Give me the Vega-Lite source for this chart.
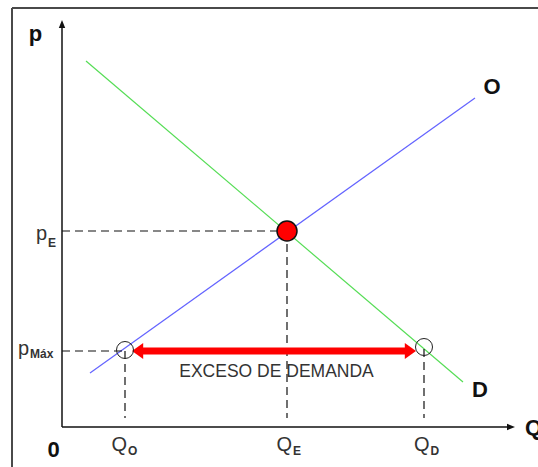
{
  "$schema": "https://vega.github.io/schema/vega-lite/v6.json",
  "width": 538,
  "height": 467,
  "autosize": {"type": "none"},
  "padding": 0,
  "background": "white",
  "config": {"view": {"stroke": null}},
  "datasets": {
    "frame": [{"Q": -10, "p": -9, "Q2": -10, "p2": 83.8}, {"Q": -10, "p": 83.8, "Q2": 96, "p2": 83.8}],
    "axes": [{"Q": 0, "p": 0, "Q2": 0, "p2": 80.2}, {"Q": 0, "p": 0, "Q2": 89.4, "p2": 0}],
    "arrowUp": [{"Q": 0, "p": 81.4}],
    "arrowRight": [{"Q": 90.6, "p": 0}],
    "curves": [
      {"curve": "D", "Q": 4.8, "p": 73.2}, {"curve": "D", "Q": 80.2, "p": 9.0},
      {"curve": "O", "Q": 5.6, "p": 10.8}, {"curve": "O", "Q": 82.6, "p": 65.8}
    ],
    "dashed": [
      {"Q": 0, "p": 39.2, "Q2": 45, "p2": 39.2},
      {"Q": 45, "p": 39.2, "Q2": 45, "p2": 1.8},
      {"Q": 0, "p": 15.2, "Q2": 12.6, "p2": 15.2},
      {"Q": 12.6, "p": 15.2, "Q2": 12.6, "p2": 1.8},
      {"Q": 72.4, "p": 15.6, "Q2": 72.4, "p2": 1.8}
    ],
    "excess": [{"Q": 15.2, "p": 15.2, "Q2": 69.6, "p2": 15.2}],
    "headL": [{"Q": 14, "p": 15.2}],
    "headR": [{"Q": 70.8, "p": 15.2}],
    "open": [{"Q": 12.6, "p": 15.4}, {"Q": 72.4, "p": 16}],
    "eq": [{"Q": 45, "p": 39.2}],
    "bigLabels": [
      {"Q": -5.3, "p": 77.2, "t": "p"},
      {"Q": 86, "p": 66.6, "t": "O"},
      {"Q": 83.6, "p": 6, "t": "D"},
      {"Q": 94.3, "p": -1.6, "t": "Q"},
      {"Q": -1.7, "p": -6, "t": "0"}
    ],
    "mainLetters": [
      {"Q": -3.0, "p": 37.4, "t": "p"},
      {"Q": -6.6, "p": 14.4, "t": "p"},
      {"Q": 13.0, "p": -4.7, "t": "Q"},
      {"Q": 46.0, "p": -4.7, "t": "Q"},
      {"Q": 73.5, "p": -4.7, "t": "Q"}
    ],
    "subs": [
      {"Q": -2.8, "p": 36, "t": "E"},
      {"Q": -6.4, "p": 13.9, "t": "Máx"},
      {"Q": 13.2, "p": -5.6, "t": "O"},
      {"Q": 46.2, "p": -5.6, "t": "E"},
      {"Q": 73.7, "p": -5.6, "t": "D"}
    ],
    "excessLabel": [{"Q": 42.9, "p": 10, "t": "EXCESO DE DEMANDA"}]
  },
  "encoding": {
    "x": {"field": "Q", "type": "quantitative", "scale": {"domain": [-12.4, 95.2], "nice": false, "zero": false}, "axis": null},
    "y": {"field": "p", "type": "quantitative", "scale": {"domain": [-8, 85.4], "nice": false, "zero": false}, "axis": null}
  },
  "layer": [
    {"data": {"name": "frame"}, "mark": {"type": "rule", "color": "#4a4a4a", "strokeWidth": 2},
     "encoding": {"x2": {"field": "Q2"}, "y2": {"field": "p2"}}},
    {"data": {"name": "axes"}, "mark": {"type": "rule", "color": "#111111", "strokeWidth": 1.5},
     "encoding": {"x2": {"field": "Q2"}, "y2": {"field": "p2"}}},
    {"data": {"name": "arrowUp"}, "mark": {"type": "point", "shape": "M0,0L-0.8,2L0.8,2Z", "size": 64, "filled": true, "color": "#111111", "opacity": 1}},
    {"data": {"name": "arrowRight"}, "mark": {"type": "point", "shape": "M0,0L-2,-0.8L-2,0.8Z", "size": 64, "filled": true, "color": "#111111", "opacity": 1}},
    {"data": {"name": "curves"}, "mark": {"type": "line", "strokeWidth": 1.2},
     "encoding": {
       "detail": {"field": "curve"},
       "color": {"field": "curve", "type": "nominal", "scale": {"domain": ["D", "O"], "range": ["#55dd55", "#6464ff"]}, "legend": null}
     }},
    {"data": {"name": "dashed"}, "mark": {"type": "rule", "color": "#111111", "strokeWidth": 1.2, "strokeDash": [8, 5]},
     "encoding": {"x2": {"field": "Q2"}, "y2": {"field": "p2"}}},
    {"data": {"name": "excess"}, "mark": {"type": "rule", "color": "#ff0000", "strokeWidth": 7},
     "encoding": {"x2": {"field": "Q2"}, "y2": {"field": "p2"}}},
    {"data": {"name": "headL"}, "mark": {"type": "point", "shape": "M0,0L1.4,-1L1.4,1Z", "size": 256, "filled": true, "color": "#ff0000", "opacity": 1}},
    {"data": {"name": "headR"}, "mark": {"type": "point", "shape": "M0,0L-1.4,-1L-1.4,1Z", "size": 256, "filled": true, "color": "#ff0000", "opacity": 1}},
    {"data": {"name": "open"}, "mark": {"type": "point", "shape": "circle", "size": 289, "filled": false, "stroke": "#222222", "strokeWidth": 1, "opacity": 1}},
    {"data": {"name": "eq"}, "mark": {"type": "point", "shape": "circle", "size": 400, "filled": true, "fill": "#ff0000", "stroke": "#111111", "strokeWidth": 1.5, "opacity": 1}},
    {"data": {"name": "bigLabels"}, "mark": {"type": "text", "font": "Liberation Sans", "fontWeight": "bold", "fontSize": 22, "align": "center", "baseline": "alphabetic", "color": "#111111"},
     "encoding": {"text": {"field": "t"}}},
    {"data": {"name": "mainLetters"}, "mark": {"type": "text", "font": "Liberation Sans", "fontSize": 20, "align": "right", "baseline": "alphabetic", "color": "#333333"},
     "encoding": {"text": {"field": "t"}}},
    {"data": {"name": "subs"}, "mark": {"type": "text", "font": "Liberation Sans", "fontWeight": "bold", "fontSize": 12, "align": "left", "baseline": "alphabetic", "color": "#333333"},
     "encoding": {"text": {"field": "t"}}},
    {"data": {"name": "excessLabel"}, "mark": {"type": "text", "font": "Liberation Sans", "fontSize": 17.5, "align": "center", "baseline": "alphabetic", "color": "#333333"},
     "encoding": {"text": {"field": "t"}}}
  ]
}
